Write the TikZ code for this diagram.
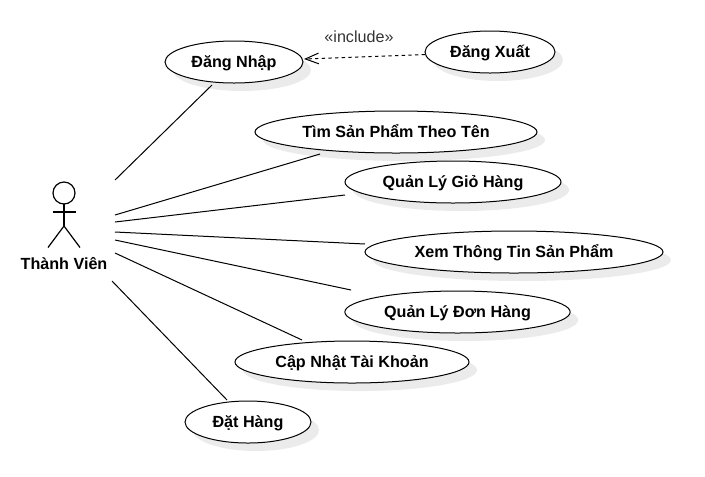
\documentclass[tikz,border=0pt]{standalone}
\usepackage{fontspec}
\setmainfont{Liberation Sans}
\usetikzlibrary{arrows.meta, shapes.geometric, calc, shadows}
\definecolor{cLine}{HTML}{000000}
\definecolor{cNote}{HTML}{333333}
\tikzset{
  usecase/.style={
    ellipse, draw=cLine, fill=white, line width=0.75pt,
    inner sep=0pt, outer sep=0pt, minimum height=31.5pt,
    font=\fontsize{12.1}{14}\selectfont\bfseries, text height=9.5pt, text depth=1.2pt,
    drop shadow={shadow xshift=6pt, shadow yshift=-6pt, fill=black!8, opacity=1}
  },
  actorlabel/.style={
    font=\fontsize{12.1}{14}\selectfont\bfseries, inner sep=0pt,
    text height=9.5pt, text depth=1.2pt
  },
  actorhead/.style={
    circle, draw=cLine, fill=white, line width=0.9pt,
    minimum size=16.5pt, inner sep=0pt, outer sep=0pt
  },
  actorline/.style={
    draw=cLine, line width=0.9pt
  },
  assoc/.style={
    draw=cLine, line width=0.75pt
  },
  includearrow/.style={
    -{Straight Barb[length=10pt, width=8pt]}, draw=cLine, line width=0.75pt,
    dash pattern=on 2.5pt off 2.5pt
  },
  includelabel/.style={
    font=\fontsize{12.1}{14}\selectfont, text=cNote, inner sep=0pt
  },
}
\begin{document}
\begin{tikzpicture}[x=0.75pt, y=-0.75pt]
\useasboundingbox (0,0) rectangle (705,476);

% ---- Actor ----
\node[actorhead] (head) at (64,193) {};
\coordinate (neck) at (64,212);
\coordinate (hip) at (64,226);
\draw[actorline] (head.south) -- (hip);
\draw[actorline] ($(neck)+(-11.5,0)$) -- ($(neck)+(11.5,0)$);
\draw[actorline] ($(hip)+(-16,21.5)$) -- (hip) -- ($(hip)+(16,21.5)$);
\node[actorlabel] (member) at (64,264) {Thành Viên};

% ---- Use cases ----
\node[usecase, minimum width=103.5pt] (uLogin) at (234,62) {Đăng Nhập};
\node[usecase, minimum width=97.5pt] (uLogout) at (490,52) {Đăng Xuất};
\node[usecase, minimum width=211.5pt] (uSearch) at (396,132) {Tìm Sản Phẩm Theo Tên};
\node[usecase, minimum width=162pt] (uCart) at (453,182) {Quản Lý Giỏ Hàng};
\node[usecase, minimum width=223.5pt] (uDetail) at (514,252) {Xem Thông Tin Sản Phẩm};
\node[usecase, minimum width=169pt] (uOrders) at (457.5,312) {Quản Lý Đơn Hàng};
\node[usecase, minimum width=175.5pt] (uAccount) at (352,362) {Cập Nhật Tài Khoản};
\node[usecase, minimum width=94.5pt] (uBuy) at (248,422) {Đặt Hàng};

% ---- Associations ----
\coordinate (fLogin) at (115,180);
\coordinate (fSearch) at (115,215);
\coordinate (fCart) at (115,222);
\coordinate (fDetail) at (115,232);
\coordinate (fOrders) at (115,240);
\coordinate (fAccount) at (115,253);
\coordinate (fBuy) at (112,281);

\draw[assoc] (fLogin) -- ($(uLogin)+(-22,23)$);
\draw[assoc] (fSearch) -- ($(uSearch)+(-76,22)$);
\draw[assoc] (fCart) -- ($(uCart)+(-108,13)$);
\draw[assoc] (fDetail) -- ($(uDetail)+(-149,-8)$);
\draw[assoc] (fOrders) -- ($(uOrders)+(-106.5,-22)$);
\draw[assoc] (fAccount) -- ($(uAccount)+(-50,-22)$);
\draw[assoc] (fBuy) -- ($(uBuy)+(-21,-22)$);

% ---- Include ----
\draw[includearrow] ($(uLogout.west)+(0,2.5)$) -- ($(uLogin.east)+(1,-3)$);
\node[includelabel] (lInclude) at (359,36.5) {«include»};

\end{tikzpicture}
\end{document}
